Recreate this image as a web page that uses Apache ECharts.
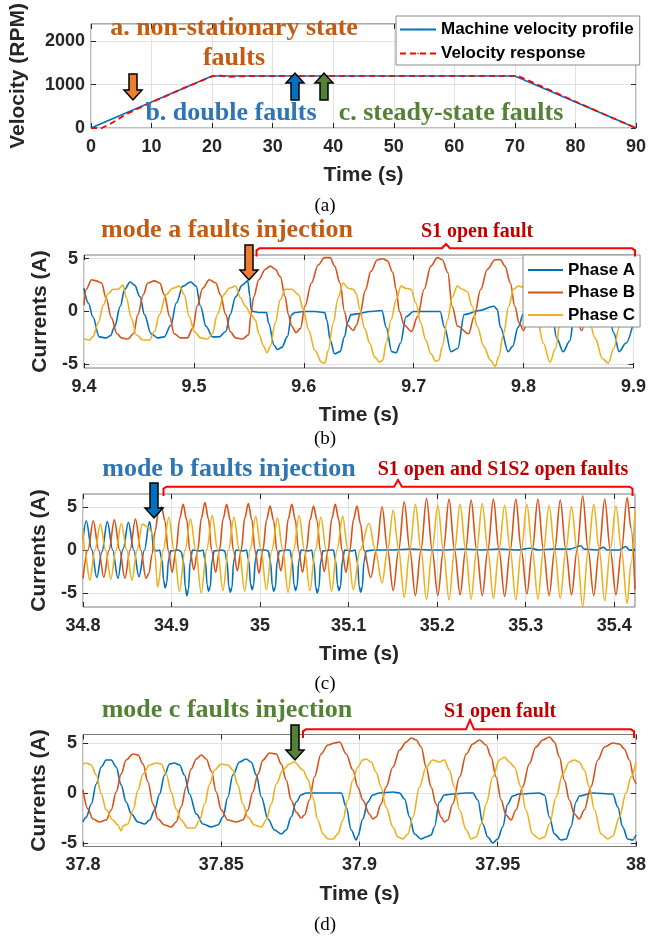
<!DOCTYPE html>
<html><head><meta charset="utf-8">
<script src="https://cdn.jsdelivr.net/npm/echarts@6/dist/echarts.min.js"></script>
<style>html,body{margin:0;padding:0;background:#fff}#c{width:649px;height:941px}</style>
</head><body><div id="c"></div>
<script>
// ---------- Panel (a): velocity ----------
const velTicksX = [0,10,20,30,40,50,60,70,80,90];
const velTicksY = [0,1000,2000];
const velProfile = [[0,0],[20,1200],[70,1200],[90,0]];
const velResponse = [[0,0],[1.8,0],[3,80],[6,330],[10,590],[15,900],[20,1190],[21,1215],[22.5,1180],[24.5,1190],[27,1200],[70.5,1200],[72,1110],[80,610],[85,300],[90,0]];

// ---------- Panel (b): mode a ----------
const bTicksX = [9.4,9.5,9.6,9.7,9.8,9.9];
const curTicksY = [-5,0,5];
const bPhaseA = [[9.400,2.2],[9.404,0.8],[9.408,-0.5],[9.414,-2.4],[9.420,-2.5],[9.424,-2.3],[9.428,-1.4],[9.433,0.5],[9.437,2.1],[9.442,2.8],[9.446,2.5],[9.451,1.4],[9.455,-0.3],[9.461,-2.1],[9.467,-2.5],[9.473,-2.4],[9.479,-1.3],[9.484,0.8],[9.490,2.4],[9.497,2.8],[9.502,2.4],[9.506,0.5],[9.511,-1.4],[9.517,-2.4],[9.523,-2.4],[9.529,-1.9],[9.533,-0.3],[9.538,1.4],[9.544,2.5],[9.549,2.9],[9.551,1.4],[9.552,0.2],[9.554,0.0],[9.560,-0.1],[9.566,-0.1],[9.568,-1.1],[9.573,-3.2],[9.576,-3.6],[9.580,-3.4],[9.585,-2.4],[9.589,-0.3],[9.592,-0.1],[9.600,0.0],[9.610,0.0],[9.619,-0.1],[9.621,-0.8],[9.624,-2.7],[9.628,-4.0],[9.633,-3.8],[9.637,-2.4],[9.640,-1.0],[9.643,-0.3],[9.650,-0.2],[9.660,0.0],[9.671,0.1],[9.675,-1.5],[9.680,-3.8],[9.684,-3.9],[9.688,-3.0],[9.693,-0.5],[9.700,0.0],[9.715,0.0],[9.724,0.0],[9.728,-1.5],[9.734,-3.8],[9.740,-3.5],[9.746,-0.3],[9.760,0.1],[9.773,0.5],[9.776,0.2],[9.779,-1.5],[9.786,-3.8],[9.790,-3.3],[9.795,-1.5],[9.800,-0.2],[9.815,0.0],[9.826,-0.1],[9.830,-2.5],[9.836,-3.8],[9.842,-2.8],[9.846,-0.5],[9.860,0.0],[9.877,0.0],[9.882,-2.0],[9.887,-3.8],[9.893,-3.0],[9.900,-1.0]];
const bPhaseB = [[9.400,0.6],[9.402,2.1],[9.407,3.0],[9.411,2.9],[9.416,2.7],[9.420,1.3],[9.425,-0.6],[9.430,-2.1],[9.434,-2.5],[9.440,-2.6],[9.445,-2.1],[9.449,-0.3],[9.454,1.6],[9.458,2.7],[9.464,2.9],[9.469,2.7],[9.473,1.6],[9.478,-0.5],[9.482,-2.1],[9.488,-2.5],[9.494,-2.5],[9.499,-1.6],[9.503,0.5],[9.508,2.2],[9.514,3.0],[9.520,2.7],[9.524,1.6],[9.529,-0.3],[9.533,-1.9],[9.538,-2.5],[9.544,-2.6],[9.550,-2.2],[9.5515,-0.5],[9.5545,1.4],[9.559,3.0],[9.565,4.0],[9.5695,4.3],[9.574,4.0],[9.5786,3.3],[9.583,1.4],[9.586,-0.3],[9.589,-1.4],[9.593,-2.0],[9.597,-1.6],[9.601,0.5],[9.607,2.7],[9.613,4.4],[9.619,5.1],[9.624,5.1],[9.628,4.3],[9.633,2.7],[9.637,0.0],[9.640,-1.3],[9.645,-1.8],[9.648,-1.3],[9.651,-0.3],[9.656,2.0],[9.661,3.8],[9.667,4.9],[9.672,5.0],[9.676,4.8],[9.681,3.7],[9.684,2.1],[9.687,0.0],[9.6915,-1.3],[9.698,-1.9],[9.7035,-0.5],[9.7095,2.1],[9.7156,4.3],[9.7216,5.1],[9.726,4.9],[9.731,3.7],[9.735,0.5],[9.740,-1.4],[9.750,-2.1],[9.755,-0.5],[9.761,2.1],[9.767,4.0],[9.774,4.9],[9.779,4.9],[9.783,4.3],[9.788,2.7],[9.792,0.5],[9.796,-1.1],[9.800,-1.8],[9.806,0.5],[9.812,2.8],[9.820,4.5],[9.828,5.0],[9.835,4.5],[9.840,2.5],[9.846,-0.2],[9.853,-1.8],[9.858,0.5],[9.865,3.0],[9.872,4.6],[9.879,4.8],[9.886,4.2],[9.892,2.0],[9.897,-0.3],[9.900,-1.0]];
const bPhaseC = [[9.400,-2.6],[9.405,-2.7],[9.408,-2.4],[9.413,-1.1],[9.4175,0.6],[9.422,1.7],[9.4265,2.1],[9.431,2.1],[9.4355,2.5],[9.4385,1.3],[9.443,-0.6],[9.4476,-2.2],[9.4536,-2.7],[9.4596,-2.7],[9.4641,-1.9],[9.4687,-0.3],[9.4747,1.6],[9.4807,2.2],[9.4867,2.4],[9.4912,1.6],[9.4958,-0.5],[9.5003,-1.9],[9.5063,-2.5],[9.5123,-2.6],[9.5168,-2.1],[9.5213,-0.3],[9.5274,1.6],[9.5319,2.2],[9.5379,2.4],[9.5424,1.3],[9.5469,0.5],[9.5515,-0.2],[9.556,-0.8],[9.559,-2.1],[9.5635,-3.3],[9.5665,-3.9],[9.5695,-3.3],[9.574,-1.1],[9.5786,1.1],[9.5831,2.1],[9.5891,2.1],[9.5951,1.6],[9.5996,0.2],[9.6042,-1.7],[9.6102,-3.7],[9.6162,-4.8],[9.6192,-4.9],[9.6222,-3.7],[9.6267,-1.1],[9.6313,1.3],[9.6358,2.7],[9.6403,2.2],[9.6448,2.1],[9.6478,1.7],[9.6509,0.2],[9.6554,-1.6],[9.660,-3.0],[9.6644,-4.3],[9.6689,-4.8],[9.6719,-4.6],[9.6749,-3.0],[9.6794,-0.8],[9.684,1.1],[9.6885,2.4],[9.693,2.2],[9.6975,2.1],[9.702,0.8],[9.7065,-1.1],[9.711,-2.7],[9.7156,-4.0],[9.720,-4.7],[9.723,-4.6],[9.726,-3.3],[9.7307,-0.8],[9.7352,1.4],[9.7397,2.4],[9.7442,2.1],[9.7487,1.9],[9.7532,0.5],[9.7578,-1.4],[9.7638,-3.3],[9.7698,-4.6],[9.7743,-5.2],[9.7773,-4.3],[9.7818,-2.1],[9.7864,0.5],[9.7909,2.1],[9.7954,2.4],[9.800,2.3],[9.806,1.5],[9.812,-0.5],[9.818,-3.0],[9.824,-4.8],[9.829,-3.5],[9.834,-0.5],[9.840,1.8],[9.846,2.4],[9.852,2.0],[9.858,0.0],[9.865,-2.5],[9.872,-4.5],[9.877,-4.9],[9.882,-3.5],[9.887,-1.5],[9.892,0.5],[9.897,2.0],[9.900,2.4]];

// ---------- Panel (c): mode b ----------
const cTicksX = [34.8,34.9,35,35.1,35.2,35.3,35.4];
const cPhaseA = [[34.8000,1.2],[34.8037,3.4],[34.8097,0.1],[34.8156,-3.2],[34.8214,-0.2],[34.8275,3.3],[34.8335,0.0],[34.8394,-3.3],[34.8452,0.1],[34.8513,3.2],[34.8573,0.0],[34.8632,-3.1],[34.8694,0.0],[34.8751,3.3],[34.8777,2.0],[34.8796,0.1],[34.8830,-0.1],[34.8864,0.0],[34.8893,-1.2],[34.8910,-3.5],[34.8928,-4.4],[34.8946,-3.8],[34.8965,-1.2],[34.8992,-0.1],[34.9075,0.0],[34.9109,-0.2],[34.9138,-1.5],[34.9155,-4.3],[34.9173,-5.3],[34.9191,-4.6],[34.9210,-1.4],[34.9237,0.0],[34.9320,-0.1],[34.9355,0.0],[34.9384,-1.4],[34.9401,-4.0],[34.9419,-4.8],[34.9437,-4.3],[34.9456,-1.3],[34.9483,-0.1],[34.9566,0.0],[34.9600,-0.1],[34.9629,-1.5],[34.9646,-4.2],[34.9664,-4.9],[34.9682,-4.4],[34.9701,-1.4],[34.9728,0.0],[34.9811,-0.1],[34.9845,0.0],[34.9874,-1.3],[34.9891,-3.9],[34.9909,-4.6],[34.9927,-4.1],[34.9946,-1.2],[34.9973,0.0],[35.0057,0.0],[35.0091,-0.1],[35.0120,-1.5],[35.0137,-4.1],[35.0155,-4.8],[35.0173,-4.3],[35.0192,-1.4],[35.0219,-0.1],[35.0302,0.0],[35.0336,0.0],[35.0365,-1.4],[35.0382,-4.0],[35.0400,-4.7],[35.0418,-4.2],[35.0437,-1.3],[35.0464,0.0],[35.0548,-0.1],[35.0582,0.0],[35.0611,-1.6],[35.0628,-4.3],[35.0646,-5.0],[35.0664,-4.4],[35.0683,-1.4],[35.0710,-0.1],[35.0793,0.0],[35.0827,0.0],[35.0856,-1.4],[35.0873,-4.0],[35.0891,-4.7],[35.0909,-4.2],[35.0928,-1.3],[35.0955,0.0],[35.1038,-0.1],[35.1072,0.0],[35.1101,-1.5],[35.1118,-4.2],[35.1136,-4.9],[35.1154,-4.3],[35.1173,-1.4],[35.1200,-0.1],[35.1300,0.0],[35.1500,0.0],[35.1700,0.1],[35.1900,0.0],[35.2100,0.0],[35.2300,0.1],[35.2500,0.0],[35.2700,0.1],[35.2900,0.0],[35.3050,0.2],[35.3150,0.0],[35.3300,0.1],[35.3500,0.1],[35.3620,0.5],[35.3660,0.1],[35.3800,0.0],[35.3880,0.3],[35.3920,0.0],[35.4050,0.0],[35.4130,0.4],[35.4170,0.0],[35.4234,0.1]];
const cPhaseB = [[34.8000,-3.3],[34.8056,0.0],[34.8116,3.4],[34.8177,0.0],[34.8235,-3.2],[34.8294,0.0],[34.8354,3.5],[34.8414,0.0],[34.8473,-3.3],[34.8532,0.0],[34.8592,3.6],[34.8653,0.0],[34.8711,-3.3],[34.8745,-2.7],[34.8780,-0.5],[34.8815,2.2],[34.8850,4.3],[34.8886,5.0],[34.8926,3.4],[34.8961,0.0],[34.9007,-2.6],[34.9051,0.0],[34.9091,3.6],[34.9131,5.3],[34.9171,3.5],[34.9206,0.0],[34.9252,-2.3],[34.9296,0.0],[34.9337,3.7],[34.9377,5.5],[34.9417,3.6],[34.9452,0.0],[34.9498,-2.6],[34.9542,0.0],[34.9582,3.6],[34.9622,5.3],[34.9662,3.5],[34.9697,0.0],[34.9743,-2.4],[34.9787,0.0],[34.9827,3.7],[34.9867,5.4],[34.9907,3.5],[34.9942,0.0],[34.9988,-2.7],[35.0032,0.0],[35.0073,3.5],[35.0113,5.1],[35.0153,3.4],[35.0188,0.0],[35.0234,-2.4],[35.0278,0.0],[35.0318,3.6],[35.0358,5.3],[35.0398,3.5],[35.0433,0.0],[35.0479,-2.6],[35.0523,0.0],[35.0564,3.5],[35.0604,5.1],[35.0644,3.4],[35.0679,0.0],[35.0725,-2.5],[35.0769,0.0],[35.0809,3.6],[35.0849,5.3],[35.0889,3.5],[35.0924,0.0],[35.0970,-2.6],[35.1014,0.0],[35.1054,3.5],[35.1094,5.1],[35.1135,3.0],[35.1172,0.0],[35.1250,-3.2],[35.1314,0.0],[35.1378,5.0],[35.1440,0.0],[35.1503,-4.7],[35.1565,0.0],[35.1628,5.6],[35.1691,0.0],[35.1754,-5.3],[35.1817,0.0],[35.1880,6.0],[35.1943,0.0],[35.2007,-5.3],[35.2070,0.0],[35.2134,5.9],[35.2196,0.0],[35.2259,-5.2],[35.2321,0.0],[35.2383,5.8],[35.2446,0.0],[35.2509,-5.3],[35.2572,0.0],[35.2635,5.9],[35.2698,0.0],[35.2762,-5.4],[35.2825,0.0],[35.2888,5.9],[35.2950,0.0],[35.3013,-5.1],[35.3075,0.0],[35.3137,5.9],[35.3200,0.0],[35.3264,-5.3],[35.3327,0.0],[35.3390,5.8],[35.3453,0.0],[35.3517,-5.2],[35.3580,0.0],[35.3643,6.3],[35.3705,0.0],[35.3768,-5.3],[35.3830,0.0],[35.3892,5.9],[35.3955,0.0],[35.4019,-5.2],[35.4082,0.0],[35.4145,6.1],[35.4190,2.5],[35.4234,-4.6]];
const cPhaseC = [[34.8000,2.2],[34.8018,0.0],[34.8077,-3.5],[34.8135,0.0],[34.8196,3.0],[34.8256,0.0],[34.8314,-3.4],[34.8373,0.0],[34.8433,3.1],[34.8494,0.0],[34.8552,-3.5],[34.8611,0.0],[34.8671,3.0],[34.8740,2.6],[34.8790,1.8],[34.8815,-0.5],[34.8830,-3.0],[34.8844,-4.3],[34.8906,0.0],[34.8969,3.8],[34.9029,0.0],[34.9089,-4.8],[34.9152,0.0],[34.9214,3.6],[34.9274,0.0],[34.9335,-5.0],[34.9397,0.0],[34.9460,4.0],[34.9520,0.0],[34.9580,-4.7],[34.9642,0.0],[34.9705,3.8],[34.9765,0.0],[34.9825,-4.8],[34.9887,0.0],[34.9950,3.9],[35.0010,0.0],[35.0071,-4.6],[35.0133,0.0],[35.0196,3.7],[35.0256,0.0],[35.0316,-4.9],[35.0378,0.0],[35.0441,4.0],[35.0501,0.0],[35.0562,-4.7],[35.0624,0.0],[35.0687,3.8],[35.0747,0.0],[35.0807,-4.8],[35.0869,0.0],[35.0932,3.9],[35.0992,0.0],[35.1052,-4.6],[35.1130,0.0],[35.1230,3.1],[35.1300,0.0],[35.1378,-3.8],[35.1440,0.0],[35.1503,4.6],[35.1565,0.0],[35.1628,-5.5],[35.1691,0.0],[35.1754,5.3],[35.1817,0.0],[35.1880,-5.8],[35.1943,0.0],[35.2007,5.2],[35.2070,0.0],[35.2134,-5.8],[35.2196,0.0],[35.2259,5.3],[35.2321,0.0],[35.2383,-5.7],[35.2446,0.0],[35.2509,5.4],[35.2572,0.0],[35.2635,-5.6],[35.2698,0.0],[35.2762,5.2],[35.2825,0.0],[35.2888,-5.8],[35.2950,0.0],[35.3013,5.3],[35.3075,0.0],[35.3137,-5.7],[35.3200,0.0],[35.3264,5.2],[35.3327,0.0],[35.3390,-5.6],[35.3453,0.0],[35.3517,5.0],[35.3580,0.0],[35.3643,-6.6],[35.3705,0.0],[35.3768,5.3],[35.3830,0.0],[35.3892,-5.9],[35.3955,0.0],[35.4019,5.1],[35.4082,0.0],[35.4145,-6.2],[35.4190,-1.5],[35.4234,4.6]];

// ---------- Panel (d): mode c ----------
const dTicksX = [37.8,37.85,37.9,37.95,38];
const dPhaseA = [[37.8000,-2.9],[37.8012,-2.4],[37.8030,-1.1],[37.8048,0.9],[37.8066,2.6],[37.8084,3.3],[37.8102,3.3],[37.8120,2.6],[37.8138,0.8],[37.8156,-0.9],[37.8175,-2.1],[37.8199,-2.9],[37.8223,-3.1],[37.8241,-2.7],[37.8259,-1.7],[37.8277,-0.1],[37.8295,1.8],[37.8313,2.9],[37.8331,3.0],[37.8349,2.8],[37.8367,1.8],[37.8385,-0.1],[37.8410,-2.1],[37.8434,-3.1],[37.8464,-3.4],[37.8488,-3.2],[37.8506,-2.4],[37.8524,-0.4],[37.8542,1.8],[37.8566,3.1],[37.8590,3.4],[37.8608,3.1],[37.8627,1.8],[37.8645,-0.4],[37.8669,-2.6],[37.8693,-3.7],[37.8717,-4.1],[37.8735,-3.7],[37.8753,-2.4],[37.8771,-0.9],[37.8789,-0.2],[37.8807,0.0],[37.8868,0.0],[37.8934,0.0],[37.8952,-1.4],[37.8970,-3.7],[37.8988,-4.7],[37.8994,-4.3],[37.9012,-2.6],[37.9030,-0.9],[37.9048,-0.2],[37.9072,0.0],[37.9121,0.1],[37.9145,0.0],[37.9163,-0.6],[37.9181,-2.4],[37.9199,-4.1],[37.9223,-4.6],[37.9241,-4.4],[37.9259,-4.2],[37.9271,-3.4],[37.9289,-0.9],[37.9307,-0.2],[37.9337,-0.1],[37.9386,0.0],[37.9410,0.0],[37.9428,-0.7],[37.9446,-3.1],[37.9464,-4.4],[37.9482,-5.0],[37.9500,-4.6],[37.9518,-3.4],[37.9536,-1.1],[37.9554,-0.3],[37.9578,-0.1],[37.9650,0.0],[37.9669,-0.2],[37.9687,-2.4],[37.9705,-4.1],[37.9729,-4.7],[37.9747,-4.6],[37.9765,-3.4],[37.9783,-0.9],[37.9795,-0.3],[37.9843,0.0],[37.9916,-0.1],[37.9934,-1.4],[37.9952,-3.4],[37.9970,-4.6],[37.9988,-4.7],[38.0000,-4.2]];
const dPhaseB = [[37.8000,0.3],[37.8018,-1.6],[37.8036,-2.6],[37.8060,-2.9],[37.8084,-2.7],[37.8102,-1.7],[37.8120,0.1],[37.8138,1.9],[37.8156,3.3],[37.8181,3.9],[37.8199,3.8],[37.8217,2.9],[37.8235,1.1],[37.8253,-1.1],[37.8271,-2.6],[37.8295,-3.2],[37.8319,-3.4],[37.8337,-2.9],[37.8355,-1.4],[37.8373,0.6],[37.8391,2.4],[37.8410,3.4],[37.8428,3.8],[37.8446,3.4],[37.8464,2.2],[37.8482,0.1],[37.8500,-1.7],[37.8524,-2.7],[37.8554,-2.9],[37.8578,-2.7],[37.8596,-1.7],[37.8614,0.1],[37.8633,1.9],[37.8651,3.3],[37.8675,4.0],[37.8699,3.9],[37.8717,2.9],[37.8735,1.3],[37.8753,-0.7],[37.8771,-1.9],[37.8789,-2.5],[37.8801,-2.2],[37.8819,-0.7],[37.8837,1.6],[37.8861,3.9],[37.8886,4.8],[37.8910,5.0],[37.8928,5.1],[37.8952,3.9],[37.8976,2.3],[37.8994,0.6],[37.9012,-0.7],[37.9036,-2.1],[37.9048,-2.6],[37.9060,-2.4],[37.9078,-1.1],[37.9096,0.6],[37.9121,2.6],[37.9145,4.3],[37.9169,5.1],[37.9187,5.5],[37.9205,5.3],[37.9223,4.6],[37.9241,2.6],[37.9259,0.6],[37.9277,-1.1],[37.9295,-2.4],[37.9307,-2.9],[37.9319,-2.7],[37.9337,-1.1],[37.9362,1.6],[37.9386,3.9],[37.9410,4.9],[37.9434,5.3],[37.9458,4.8],[37.9476,3.6],[37.9494,1.6],[37.9512,-0.7],[37.9530,-2.2],[37.9548,-2.7],[37.9566,-1.7],[37.9590,0.6],[37.9614,2.9],[37.9638,4.6],[37.9663,5.3],[37.9687,5.6],[37.9705,5.1],[37.9723,3.6],[37.9741,1.3],[37.9759,-0.7],[37.9777,-2.1],[37.9795,-2.6],[37.9813,-1.7],[37.9837,0.6],[37.9862,3.3],[37.9886,4.6],[37.9916,5.0],[37.9940,4.9],[37.9958,4.4],[37.9976,3.3],[37.9994,1.3],[38.0000,0.9]];
const dPhaseC = [[37.8000,2.9],[37.8012,3.0],[37.8030,2.8],[37.8048,1.8],[37.8066,-0.1],[37.8084,-1.7],[37.8108,-2.7],[37.8126,-3.2],[37.8138,-3.8],[37.8144,-3.3],[37.8162,-3.1],[37.8181,-1.7],[37.8199,0.3],[37.8217,1.9],[37.8241,2.8],[37.8265,3.0],[37.8283,2.9],[37.8301,1.9],[37.8319,0.1],[37.8337,-1.6],[37.8355,-2.7],[37.8379,-3.5],[37.8404,-3.5],[37.8422,-2.7],[37.8440,-1.1],[37.8458,0.9],[37.8476,2.3],[37.8500,2.9],[37.8524,2.8],[37.8542,2.3],[37.8560,0.8],[37.8578,-1.1],[37.8596,-2.4],[37.8620,-3.2],[37.8645,-3.4],[37.8663,-2.7],[37.8681,-1.1],[37.8699,0.9],[37.8723,2.3],[37.8747,2.9],[37.8765,3.1],[37.8795,2.3],[37.8813,1.4],[37.8831,-0.4],[37.8849,-2.7],[37.8868,-4.1],[37.8886,-4.6],[37.8904,-4.6],[37.8922,-4.1],[37.8940,-2.7],[37.8958,-0.7],[37.8976,1.3],[37.8994,2.6],[37.9012,3.3],[37.9024,3.4],[37.9042,3.1],[37.9060,2.1],[37.9078,0.6],[37.9096,-1.4],[37.9121,-3.4],[37.9139,-4.4],[37.9157,-4.6],[37.9175,-4.1],[37.9193,-2.4],[37.9217,0.6],[37.9241,2.6],[37.9265,3.3],[37.9289,3.1],[37.9307,3.3],[37.9325,2.3],[37.9343,0.6],[37.9362,-1.7],[37.9386,-3.7],[37.9404,-4.6],[37.9422,-4.4],[37.9440,-3.1],[37.9458,-1.1],[37.9482,1.6],[37.9506,3.3],[37.9524,3.6],[37.9542,3.1],[37.9560,2.6],[37.9584,0.6],[37.9602,-1.7],[37.9626,-4.1],[37.9650,-4.6],[37.9669,-4.4],[37.9687,-3.1],[37.9711,-0.4],[37.9735,1.9],[37.9759,3.1],[37.9777,3.3],[37.9795,3.1],[37.9813,2.3],[37.9831,0.6],[37.9850,-1.7],[37.9874,-4.1],[37.9898,-4.6],[37.9916,-4.3],[37.9940,-2.4],[37.9964,0.0],[37.9982,1.6],[38.0000,3.1]];

// ---------- styling ----------
const SANS = '"Liberation Sans", Arial, Helvetica, sans-serif';
const SERIF = '"Liberation Serif", "Times New Roman", serif';
const INK = '#262626';
const C_A = '#0072BD', C_B = '#D95319', C_C = '#EDB120';

const grids = [
  {left:83, top:15, width:554, height:113},
  {left:84, top:255, width:553, height:113},
  {left:83, top:494, width:552, height:113},
  {left:83, top:734.5, width:553.5, height:112}
];
const xRanges = [[0,90,velTicksX],[9.4,9.9,bTicksX],[34.8,35.4234,cTicksX],[37.8,38,dTicksX]];
const yRanges = [[0,2400,velTicksY,'Velocity (RPM)',62],[-5.35,5.35,curTicksY,'Currents (A)',31],[-6.62,6.5,curTicksY,'Currents (A)',31],[-5.35,5.85,curTicksY,'Currents (A)',31]];
const fmt = v => String(v);
const noLine = {show:false, onZero:false};

const xAxes = xRanges.map((r,i)=>({
  type:'value', gridIndex:i, min:r[0], max:r[1], position:'bottom',
  name:'Time (s)', nameLocation:'middle', nameGap:37,
  nameTextStyle:{fontFamily:SANS, fontWeight:'bold', fontSize:21, color:INK},
  axisLine:noLine,
  axisTick:{show:true, inside:true, length:5, customValues:r[2], lineStyle:{color:INK}},
  axisLabel:{customValues:r[2], formatter:fmt, margin:10, fontFamily:SANS, fontWeight:'bold', fontSize:18, color:INK},
  splitLine:{show:true, lineStyle:{color:'#e2e2e2', width:1}}
})).concat(xRanges.map((r,i)=>({
  type:'value', gridIndex:i, min:r[0], max:r[1], position:'top',
  axisLine:noLine, axisLabel:{show:false}, splitLine:{show:false},
  axisTick:{show:true, inside:true, length:5, customValues:r[2], lineStyle:{color:INK}}
})));
const yAxes = yRanges.map((r,i)=>({
  type:'value', gridIndex:i, min:r[0], max:r[1], position:'left',
  name:r[3], nameLocation:'middle', nameGap:r[4],
  nameTextStyle:{fontFamily:SANS, fontWeight:'bold', fontSize:21, color:INK},
  axisLine:noLine,
  axisTick:{show:true, inside:true, length:5, customValues:r[2], lineStyle:{color:INK}},
  axisLabel:{customValues:r[2], formatter:fmt, margin:6, fontFamily:SANS, fontWeight:'bold', fontSize:18, color:INK},
  splitLine:{show:true, lineStyle:{color:'#e2e2e2', width:1}}
})).concat(yRanges.map((r,i)=>({
  type:'value', gridIndex:i, min:r[0], max:r[1], position:'right',
  axisLine:noLine, axisLabel:{show:false}, splitLine:{show:false},
  axisTick:{show:true, inside:true, length:5, customValues:r[2], lineStyle:{color:INK}}
})));

function cur(name, data, gi, color){
  return {type:'line', name, data, xAxisIndex:gi, yAxisIndex:gi, showSymbol:false, symbol:'none',
    smooth:0.35, smoothMonotone:'x', lineStyle:{width:1.6, color}, itemStyle:{color}, animation:false, z:2};
}
const series = [
  {type:'line', name:'Machine velocity profile', data:velProfile, xAxisIndex:0, yAxisIndex:0, showSymbol:false, symbol:'none', lineStyle:{width:1.6, color:C_A}, itemStyle:{color:C_A}, animation:false},
  {type:'line', name:'Velocity response', data:velResponse, xAxisIndex:0, yAxisIndex:0, showSymbol:false, symbol:'none', lineStyle:{width:1.8, color:'#FF0000', type:[6,4]}, itemStyle:{color:'#FF0000'}, animation:false},
  cur('Phase A', bPhaseA, 1, C_A), cur('Phase B', bPhaseB, 1, C_B), cur('Phase C', bPhaseC, 1, C_C),
  cur('Phase A', cPhaseA, 2, C_A), cur('Phase B', cPhaseB, 2, C_B), cur('Phase C', cPhaseC, 2, C_C),
  cur('Phase A', dPhaseA, 3, C_A), cur('Phase B', dPhaseB, 3, C_B), cur('Phase C', dPhaseC, 3, C_C)
];

// ---------- annotations ----------
function arrow(cx, y0, y1, fill){ // y0 = tail, y1 = tip
  const d = y1 > y0 ? 1 : -1, hw = 4, hh = 9, hl = 10;
  const yb = y1 - d*hl;
  return {type:'polygon', z:50, shape:{points:[[cx-hw,y0],[cx+hw,y0],[cx+hw,yb],[cx+hh,yb],[cx,y1],[cx-hh,yb],[cx-hw,yb]]},
    style:{fill, stroke:'#000', lineWidth:1.5}};
}
function bracket(x0, x1, xm, y, yEnd, yBump){
  return {type:'polyline', z:50, shape:{points:[[x0,yEnd],[x0,y+2],[x0+3,y],[xm-4,y],[xm,yBump],[xm+4,y],[x1-3,y],[x1,y+2],[x1,yEnd]]},
    style:{stroke:'#FF0000', lineWidth:2, fill:null}};
}
function txt(x, y, text, fill, font){
  return {type:'text', z:50, x, y, style:{text, fill, font, textAlign:'center', textVerticalAlign:'middle'}};
}
const ORANGE='#C55A11', BLUE='#2E75B6', GREEN='#548235', DRED='#C00000';
const bigSerif = 'bold 26px ' + SERIF, midSerif = 'bold 20px ' + SERIF, capFont = '19px ' + SERIF;
const graphic = [
  txt(234, 28, 'a. non-stationary state', ORANGE, bigSerif),
  txt(234, 58, 'faults', ORANGE, bigSerif),
  txt(231, 113, 'b. double faults', BLUE, bigSerif),
  txt(451, 113, 'c. steady-state faults', GREEN, bigSerif),
  arrow(133, 74, 100, '#ED7D31'), arrow(295, 100, 73, '#0070C0'), arrow(324, 100, 73, '#548235'),
  txt(325, 206, '(a)', '#000', capFont),
  txt(227, 230, 'mode a faults injection', ORANGE, bigSerif),
  txt(477, 232, 'S1 open fault', DRED, midSerif),
  bracket(256.5, 635, 446, 248.3, 256.5, 244),
  arrow(249, 245, 280, '#ED7D31'),
  txt(325, 439, '(b)', '#000', capFont),
  txt(229, 469, 'mode b faults injection', BLUE, bigSerif),
  txt(503, 470, 'S1 open and S1S2 open faults', DRED, midSerif),
  bracket(163.5, 632.5, 398, 486.7, 496, 480),
  arrow(154, 483, 518, '#0070C0'),
  txt(325, 684, '(c)', '#000', capFont),
  txt(227, 710, 'mode c faults injection', GREEN, bigSerif),
  txt(500, 712, 'S1 open fault', DRED, midSerif),
  bracket(303, 634, 470, 729.3, 738, 720),
  arrow(295, 725, 760, '#548235'),
  txt(325, 925, '(d)', '#000', capFont)
];

const legendText = {fontFamily:SANS, fontWeight:'bold', fontSize:17, color:'#000'};
const option = {
  backgroundColor:'#fff',
  animation:false,
  grid: grids.map(g=>Object.assign({show:true, borderColor:'#7a7a7a', borderWidth:1, backgroundColor:'transparent'}, g)),
  xAxis: xAxes, yAxis: yAxes, series,
  legend:[
    {data:['Machine velocity profile','Velocity response'], left:396, top:16, orient:'vertical', itemWidth:36, itemHeight:2, itemGap:7,
     padding:[5,6,3,3], backgroundColor:'#fff', borderColor:'#8a8a8a', borderWidth:1, textStyle:legendText, selectedMode:false, z:20},
    {data:['Phase A','Phase B','Phase C'], left:523, top:255, orient:'vertical', itemWidth:35, itemHeight:2, itemGap:5.5,
     padding:[6.5,5,3.5,4], backgroundColor:'#fff', borderColor:'#8a8a8a', borderWidth:1, textStyle:legendText, selectedMode:false, z:20}
  ],
  graphic
};
const chart = echarts.init(document.getElementById('c'));
chart.setOption(option);
</script></body></html>
